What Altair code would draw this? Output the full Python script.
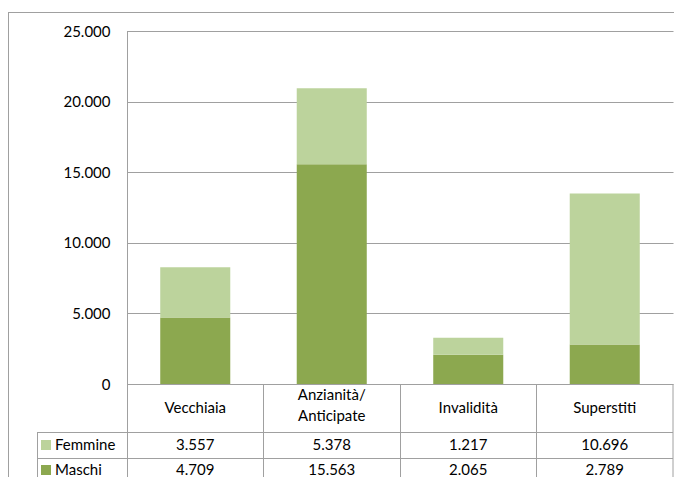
import altair as alt
import pandas as pd

# ---- data ----
categories = ["Vecchiaia", "Anzianità/\nAnticipate", "Invalidità", "Superstiti"]
femmine = [3557, 5378, 1217, 10696]
maschi = [4709, 15563, 2065, 2789]
series = ["Maschi", "Femmine"]
colors = ["#8CA84F", "#BCD39C"]
y_ticks = [0, 5000, 10000, 15000, 20000, 25000]

rows = []
for i, c in enumerate(categories):
    rows.append({"cat": c, "sex": "Maschi", "value": maschi[i], "ord": 0})
    rows.append({"cat": c, "sex": "Femmine", "value": femmine[i], "ord": 1})
df = pd.DataFrame(rows)
df_cat = pd.DataFrame({"cat": categories})

FONT = "Lato"
FS = 15
LINE = "#a0a0a0"
W, H = 546, 353

xscale = alt.Scale(domain=categories, paddingInner=0.487, paddingOuter=0.2435)
label_expr = "replace(format(datum.value, ','), ',', '.')"

bars = alt.Chart(df).mark_bar().encode(
    x=alt.X("cat:N", scale=xscale, axis=None),
    y=alt.Y(
        "value:Q",
        stack="zero",
        scale=alt.Scale(domain=[0, 25000], nice=False),
        axis=alt.Axis(
            values=y_ticks, grid=True, gridColor=LINE, gridWidth=1,
            domain=False, ticks=False, tickSize=0, labelPadding=17,
            labelFont=FONT, labelFontSize=FS, labelColor="#000",
            labelExpr=label_expr, title=None,
        ),
    ),
    color=alt.Color("sex:N", scale=alt.Scale(domain=series, range=colors), legend=None),
    order=alt.Order("ord:Q"),
)


def header(multi, ypix):
    test = "indexof(datum.cat, '\\n') >= 0" if multi else "indexof(datum.cat, '\\n') < 0"
    return alt.Chart(df_cat).transform_filter(test).mark_text(
        font=FONT, fontSize=FS, lineBreak="\n", lineHeight=21, baseline="middle", color="#000"
    ).encode(
        x=alt.X("cat:N", scale=xscale, axis=None, bandPosition=0.5),
        y=alt.value(ypix),
        text="cat:N",
    )


def value_row(sex, ypix):
    return alt.Chart(df).transform_filter(
        alt.datum.sex == sex
    ).transform_calculate(
        label=label_expr
    ).mark_text(font=FONT, fontSize=FS, baseline="middle", color="#000").encode(
        x=alt.X("cat:N", scale=xscale, axis=None, bandPosition=0.5),
        y=alt.value(ypix),
        text="label:N",
    )


one = pd.DataFrame({"a": [0]})


def rule(x1, x2, y1, y2):
    return alt.Chart(one).mark_rule(color=LINE, strokeWidth=1).encode(
        x=alt.value(x1), x2=alt.value(x2), y=alt.value(y1), y2=alt.value(y2)
    )


def legend_item(name, color, ypix):
    sq = alt.Chart(one).mark_rect(color=color).encode(
        x=alt.value(-86), x2=alt.value(-76), y=alt.value(ypix - 5), y2=alt.value(ypix + 5)
    )
    tx = alt.Chart(one).mark_text(
        font=FONT, fontSize=FS, align="left", baseline="middle", color="#000", text=name
    ).encode(x=alt.value(-72), y=alt.value(ypix))
    return sq + tx


bottom = 446
lines = [
    rule(-119, W + 1, -18.5, -18.5),          # outer border top
    rule(-118.5, -118.5, -18.5, bottom),      # outer border left
    rule(0.5, 0.5, 0, bottom),                # plot left edge
    rule(136.5, 136.5, H, bottom),
    rule(273.5, 273.5, H, bottom),
    rule(409.5, 409.5, H, bottom),
    rule(546, 546, H, bottom),
    rule(-90, W, 401.5, 401.5),
    rule(-90, W, 427.5, 427.5),
    rule(-89.5, -89.5, 401.5, bottom),
]

chart = alt.layer(
    bars,
    *lines,
    header(False, 377),
    header(True, 364),
    value_row("Femmine", 414),
    value_row("Maschi", 439),
    legend_item("Femmine", colors[1], 414),
    legend_item("Maschi", colors[0], 439),
).properties(
    width=W,
    height=H,
    autosize=alt.AutoSizeParams(type="none"),
    padding={"left": 119, "top": 23, "right": 1, "bottom": 93},
    background="white",
).configure_view(stroke=None)

chart.save("out.html", embed_options={"renderer": "svg", "actions": False})
